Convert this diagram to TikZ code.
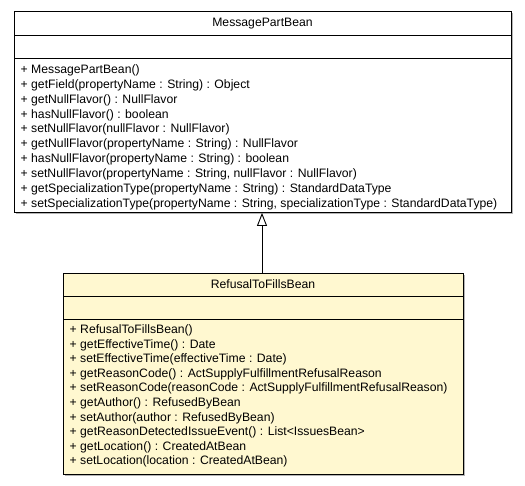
\documentclass[tikz,border=0pt]{standalone}
\usepackage{fontspec}
\setmainfont{Liberation Sans}
\usetikzlibrary{arrows.meta,calc}
\definecolor{beanfill}{RGB}{255,248,208}
\definecolor{shadowgray}{RGB}{180,180,180}
\tikzset{
  umlbox/.style={draw=black, line width=0.9pt, rectangle, inner sep=0pt, anchor=north west},
  umltitle/.style={font=\fontsize{12.2}{14.7}\selectfont, inner sep=0pt, anchor=base},
  umlline/.style={font=\fontsize{12.2}{14.7}\selectfont, inner sep=0pt, anchor=base west},
  sep/.style={draw=black, line width=0.9pt},
  inherit/.style={draw=black, line width=0.9pt, -{Triangle[open, length=13pt, width=10pt]}}
}
\begin{document}
\begin{tikzpicture}[x=1pt,y=-1pt]
\useasboundingbox (0,0) rectangle (525,485);
% --- MessagePartBean ---
\fill[shadowgray] (15.5,12.5) rectangle (512.5,213.5);
\node[umlbox, fill=white, minimum width=497pt, minimum height=201pt] (mpb) at (14,11) {};
\draw[sep] (14,35) -- (511,35);
\draw[sep] (14,58) -- (511,58);
\node[umltitle] (mpbt) at (262.5,26.5) {MessagePartBean};
\foreach \t [count=\i from 0] in {
  {+ MessagePartBean()},
  {+ getField(propertyName : String) : Object},
  {+ getNullFlavor() : NullFlavor},
  {+ hasNullFlavor() : boolean},
  {+ setNullFlavor(nullFlavor : NullFlavor)},
  {+ getNullFlavor(propertyName : String) : NullFlavor},
  {+ hasNullFlavor(propertyName : String) : boolean},
  {+ setNullFlavor(propertyName : String, nullFlavor : NullFlavor)},
  {+ getSpecializationType(propertyName : String) : StandardDataType},
  {+ setSpecializationType(propertyName : String, specializationType : StandardDataType)}}
  \node[umlline] (mpbm\i) at (20.5,{73.5+14.85*\i}) {\t};
% --- RefusalToFillsBean ---
\fill[shadowgray] (64.5,274.5) rectangle (464.5,475.5);
\node[umlbox, fill=beanfill, minimum width=400pt, minimum height=201pt] (rtf) at (63,273) {};
\draw[sep] (63,296) -- (463,296);
\draw[sep] (63,319) -- (463,319);
\node[umltitle] (rtft) at (263,288.5) {RefusalToFillsBean};
\foreach \t [count=\i from 0] in {
  {+ RefusalToFillsBean()},
  {+ getEffectiveTime() : Date},
  {+ setEffectiveTime(effectiveTime : Date)},
  {+ getReasonCode() : ActSupplyFulfillmentRefusalReason},
  {+ setReasonCode(reasonCode : ActSupplyFulfillmentRefusalReason)},
  {+ getAuthor() : RefusedByBean},
  {+ setAuthor(author : RefusedByBean)},
  {+ getReasonDetectedIssueEvent() : List<IssuesBean>},
  {+ getLocation() : CreatedAtBean},
  {+ setLocation(location : CreatedAtBean)}}
  \node[umlline] (rtfm\i) at (69.5,{333.5+14.6*\i}) {\t};
% --- generalization ---
\draw[inherit] (rtf.north -| 262,0) -- (mpb.south -| 262,0);
\end{tikzpicture}
\end{document}
